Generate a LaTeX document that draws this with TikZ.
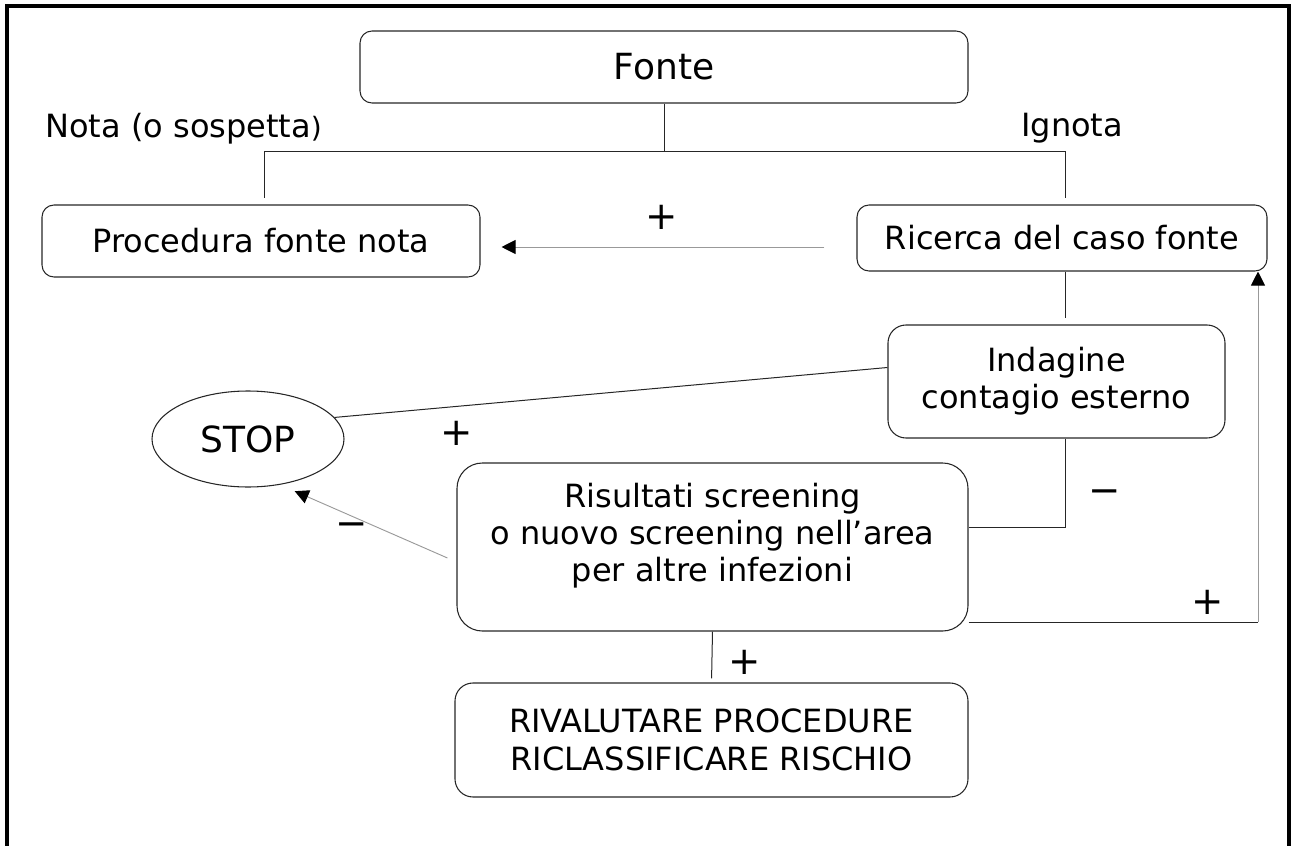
\documentclass[tikz,border=0pt]{standalone}
\usepackage{fontspec}
\setmainfont{DejaVu Sans}
\usetikzlibrary{shapes.geometric,arrows.meta,calc}
\begin{document}
\begin{tikzpicture}[x=0.75pt,y=-0.75pt,
  box/.style={draw=black!85, line width=0.8pt, rounded corners=#1, align=center, inner sep=0pt, font=\fontsize{24pt}{28pt}\selectfont},
  box/.default=9pt,
  conn/.style={draw=black!85, line width=0.75pt},
  garrow/.style={draw=black!40, line width=0.7pt, -{Triangle[length=10.5pt,width=10.5pt,color=black]}},
  lbl/.style={font=\fontsize{29pt}{32pt}\selectfont, inner sep=0pt},
  txt/.style={font=\fontsize{24pt}{28pt}\selectfont, inner sep=0pt},
]
\useasboundingbox (0,0) rectangle (1297,846);
\draw[line width=2.4pt] (7,850) -- (7,6) -- (1289,6) -- (1289,850);

% nodes
\node[box, minimum width=456pt, minimum height=54pt, font=\fontsize{27pt}{32pt}\selectfont] (fonte) at (664,67) {Fonte};
\node[txt, anchor=base west] (nota) at (45,137) {Nota (o sospetta{\fontsize{21pt}{24pt}\selectfont )}};
\node[txt, anchor=base west] (ignota) at (1021,136) {Ignota};
\node[box, minimum width=328.5pt, minimum height=54pt] (proc) at (261,241) {Procedura fonte nota};
\node[box, minimum width=307.5pt, minimum height=49.5pt] (ric) at (1062,238) {Ricerca del caso fonte};
\node[box=13.5pt, minimum width=252.75pt, minimum height=84.75pt] (ind) at (1056.5,381.5) {Indagine\\contagio esterno};
\node[ellipse, draw=black!85, line width=0.8pt, minimum width=144pt, minimum height=72pt, inner sep=0pt, font=\fontsize{27pt}{32pt}\selectfont] (stop) at (248,439) {STOP};
\node[box=19pt, minimum width=383.25pt, minimum height=126pt] (ris) at (712.5,547) {Risultati screening\\o nuovo screening nell’area\\per altre infezioni\\[-6pt]};
\node[box=13.5pt, minimum width=384.75pt, minimum height=85.5pt] (riv) at (711.5,740) {RIVALUTARE PROCEDURE\\RICLASSIFICARE RISCHIO};

% junctions
\coordinate (jl) at (264,151);
\coordinate (jr) at (1065,151);
\coordinate (k1) at (1065,527);
\coordinate (k2) at (1258,622);

% connectors
\draw[conn] (fonte.south) -- (fonte.south |- jl);
\draw[conn] (jl) -- (jr);
\draw[conn, shorten >=4.5pt] (jl) -- (jl |- proc.north);
\draw[conn, shorten >=4.5pt] (jr) -- (jr |- ric.north);
\draw[conn, shorten >=4.5pt] (jr |- ric.south) -- (jr |- ind.north);
\draw[conn] (stop.14) -- ($(ind.west)+(0,-14)$);
\draw[conn] (jr |- ind.south) -- (k1) -- (k1 -| ris.east);
\draw[conn, shorten >=3pt] (ris.south) -- (riv.north);
\draw[conn] (ris.east |- k2) -- (k2);
\draw[garrow] (k2) -- (k2 |- ric.south);
\draw[garrow] ($(ric.west)+(-32,9)$) -- ($(proc.east)+(21,6)$);
\draw[garrow, shorten >=12pt] ($(ris.west)+(-9,11)$) -- (stop.-55);

% labels
\node[lbl] (p1) at (662,217) {+};
\node[lbl] (p2) at (457,433) {+};
\node[lbl] (m1) at (352,530) {−};
\node[lbl] (m2) at (1105,497) {−};
\node[lbl] (p3) at (1208,602) {+};
\node[lbl] (p4) at (745,662) {+};
\end{tikzpicture}
\end{document}
